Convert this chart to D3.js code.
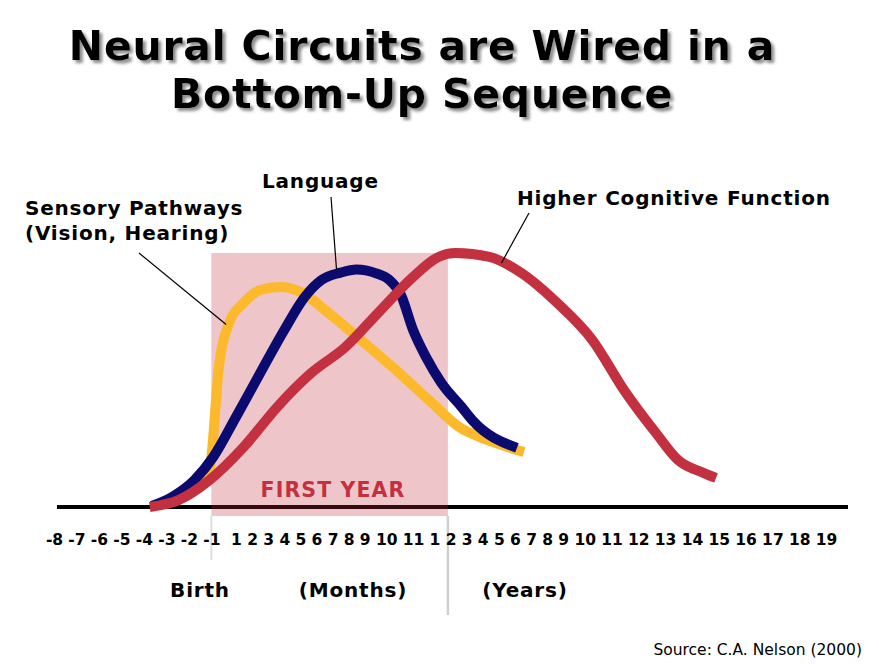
<!DOCTYPE html>
<html><head><meta charset="utf-8">
<script src="https://cdn.jsdelivr.net/npm/d3@7"></script>
<style>
body{margin:0;background:#fff}
svg{display:block}
text{font-family:"DejaVu Sans",Verdana,sans-serif}
</style>
</head><body>
<svg id="chart" width="879" height="664"></svg>
<script>
// ---- data ----
// age in months relative to birth (negative = prenatal); years expressed as 12*n months
const tickValues = [-8,-7,-6,-5,-4,-3,-2,-1,1,2,3,4,5,6,7,8,9,10,11,
  12,24,36,48,60,72,84,96,108,120,132,144,156,168,180,192,204,216,228];
const tickLabels = ["-8","-7","-6","-5","-4","-3","-2","-1","1","2","3","4","5","6","7","8","9","10","11",
  "1","2","3","4","5","6","7","8","9","10","11","12","13","14","15","16","17","18","19"];

// [age in months, relative intensity 0-100]
const sensory = [[-1.6,9],[-1.12,13.2],[-1,19.5],[-0.44,52.1],[0.44,71.6],[1.47,79.4],[2.5,84.4],
  [3.75,85.6],[5,83.7],[6.75,75.5],[8.76,65],[10.36,53.3],[11.74,41.6],[32.25,30.5],[40,28.5],[78.75,21.4]];
const language = [[-3.65,0.4],[-2.75,3.9],[-1.75,10.5],[-0.84,19.5],[1,35],[2.5,52.1],[4,68.9],
  [5.27,81.7],[6.31,88.3],[7.5,91.2],[8.5,92.4],[9.5,91],[10.1,88.5],[10.55,82.5],[11,68.9],[11.6,58.4],
  [17.25,48.2],[32.25,38.9],[40,33.9],[73.5,23]];
const higher = [[-3.74,0],[-2.46,2.7],[-1.08,10.5],[1.47,23.3],[3.56,38.9],[5.67,52.1],[7.81,62.3],
  [9.62,75.5],[11,89.5],[15,97.3],[27.75,98.8],[53,97.3],[77,91],[103.5,79.4],[123.4,65],
  [137.6,45.5],[151.9,28.8],[161.8,18.3],[173.4,13.2],[178.8,11.3]];
const firstYearSpan = [-1, 22];
const seriesNames = [["Sensory Pathways","(Vision, Hearing)"],["Language"],["Higher Cognitive Function"]];
const seriesColors = ["#fdb92c","#0b0a6e","#c3303f"];
// anchor points of leader lines on the curves [age, value]
const anchors = [[0.2,71],[7.25,92],[62,95]];

// ---- drawing ----
const svg = d3.select("#chart");

// layout of the tick labels as a flowing text row
const tickFont = 15.5;
const meas = svg.append("g").attr("font-weight","bold").attr("font-size",tickFont);
const measure = s => { const t = meas.append("text").text(s); const w = t.node().getComputedTextLength(); t.remove(); return w; };
const widths = tickLabels.map(measure);
const sp = measure("0 0") - measure("00");
meas.remove();
let cur = 0; const rawCenters = [];
tickValues.forEach((v,i) => {
  if (i > 0) { cur += sp; if (tickValues[i-1] < 0 && v > 0) cur += sp; }
  rawCenters.push(cur + widths[i]/2); cur += widths[i];
});
const firstC = 54, lastC = 826;
const kf = (lastC-firstC)/(rawCenters[rawCenters.length-1]-rawCenters[0]);
const centers = rawCenters.map(c => firstC + (c-rawCenters[0])*kf);

const x = d3.scaleLinear().domain(tickValues).range(centers);
const y = d3.scaleLinear().domain([0,100]).range([507,250]);

// filter for title shadow
const defs = svg.append("defs");
defs.append("filter").attr("id","shadow").attr("x","-5%").attr("y","-30%").attr("width","110%").attr("height","160%")
  .append("feDropShadow").attr("dx",3).attr("dy",3).attr("stdDeviation",1.5)
  .attr("flood-color","#808080").attr("flood-opacity",0.9);

// title
const titleLines = ["Neural Circuits are Wired in a","Bottom-Up Sequence"];
const titleY = [60,108];
titleLines.forEach((t,i) => {
  svg.append("text").attr("x",422).attr("y",titleY[i]).attr("text-anchor","middle")
    .attr("font-size",41).attr("font-weight","bold").attr("letter-spacing",0.75)
    .attr("fill","#000").attr("filter","url(#shadow)").text(t);
});

// gray guide lines below axis
svg.append("line").attr("x1",x(firstYearSpan[0])).attr("x2",x(firstYearSpan[0]))
  .attr("y1",516).attr("y2",560).attr("stroke","#dedede").attr("stroke-width",2);
svg.append("line").attr("x1",x(firstYearSpan[1])).attr("x2",x(firstYearSpan[1]))
  .attr("y1",516).attr("y2",615).attr("stroke","#cfcfcf").attr("stroke-width",2.5);

// baseline
svg.append("line").attr("x1",57).attr("x2",848).attr("y1",y(0)).attr("y2",y(0))
  .attr("stroke","#000").attr("stroke-width",4);

// first year shading
svg.append("rect").attr("x",x(firstYearSpan[0])).attr("y",253)
  .attr("width",x(firstYearSpan[1])-x(firstYearSpan[0])).attr("height",516-253)
  .attr("fill","rgb(192,40,55)").attr("fill-opacity",0.27);

svg.append("text").attr("x",333).attr("y",497).attr("text-anchor","middle")
  .attr("font-size",20.5).attr("font-weight","bold").attr("letter-spacing",1.1)
  .attr("fill","#c3303f").text("FIRST YEAR");

// axis labels
const axis = d3.axisBottom(x).tickValues(tickValues).tickFormat((d,i) => tickLabels[i]).tickSize(0).tickPadding(27);
const ag = svg.append("g").attr("transform",`translate(0,${y(0)})`).call(axis);
ag.select(".domain").remove();
ag.attr("font-family",null).attr("font-size",tickFont).attr("font-weight","bold");
ag.selectAll("text").attr("fill","#000");

// curves
const line = d3.line().x(d => x(d[0])).y(d => y(d[1])).curve(d3.curveMonotoneX);
[sensory, language, higher].forEach((s,i) => {
  svg.append("path").datum(s).attr("d",line).attr("fill","none")
    .attr("stroke",seriesColors[i]).attr("stroke-width",10)
    .attr("stroke-linecap","butt").attr("stroke-linejoin","round");
});

// series labels and leader lines
const labelPos = [{x:25,y:[215,240]},{x:262,y:[188]},{x:517,y:[205]}];
const leaderStart = [[139,253],[331,197],[529,213]];
seriesNames.forEach((lines,i) => {
  lines.forEach((t,j) => svg.append("text").attr("x",labelPos[i].x).attr("y",labelPos[i].y[j])
    .attr("font-size",20).attr("font-weight","bold").attr("letter-spacing",0.8)
    .attr("fill","#000").text(t));
  svg.append("line").attr("x1",leaderStart[i][0]).attr("y1",leaderStart[i][1])
    .attr("x2",x(anchors[i][0])).attr("y2",y(anchors[i][1])).attr("stroke","#000").attr("stroke-width",1.2);
});

// bottom captions
[["Birth",200],["(Months)",353],["(Years)",525]].forEach(([t,cx]) => {
  svg.append("text").attr("x",cx).attr("y",597).attr("text-anchor","middle")
    .attr("font-size",20).attr("font-weight","bold").attr("letter-spacing",0.8)
    .attr("fill","#000").text(t);
});

svg.append("text").attr("x",862).attr("y",655).attr("text-anchor","end")
  .attr("font-size",15.5).attr("fill","#000").text("Source: C.A. Nelson (2000)");
</script>
</body></html>
